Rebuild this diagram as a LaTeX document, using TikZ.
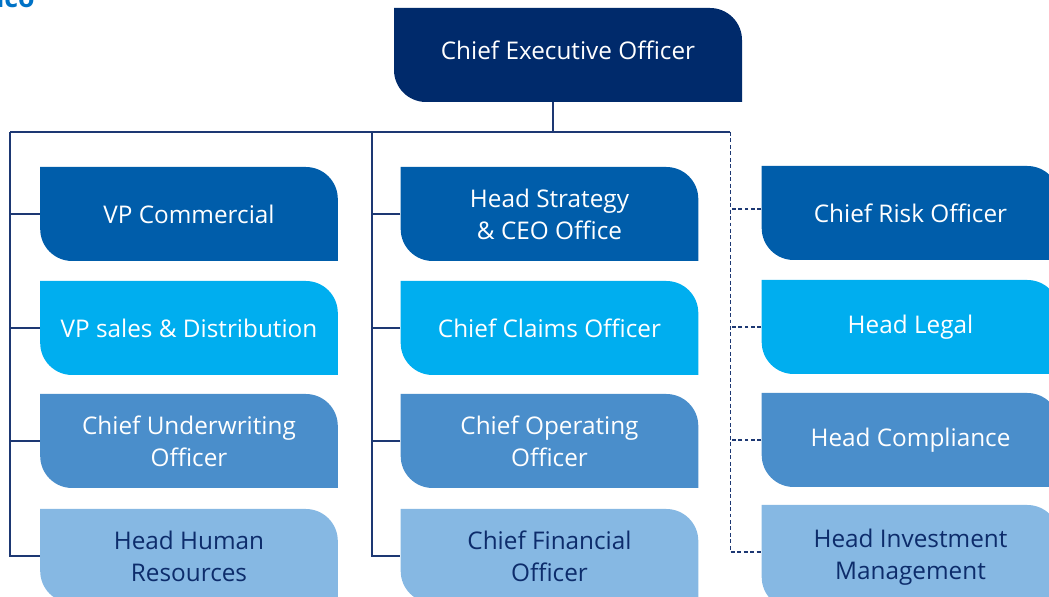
\documentclass[tikz,border=0pt]{standalone}
\usepackage{fontspec}
\setmainfont{Open Sans}
\definecolor{ceoblue}{HTML}{002A6B}
\definecolor{rowone}{HTML}{005DAA}
\definecolor{rowtwo}{HTML}{00AEEF}
\definecolor{rowthree}{HTML}{4A8ECB}
\definecolor{rowfour}{HTML}{86B8E3}
\definecolor{darktext}{HTML}{0D2C6B}
\definecolor{linkblue}{HTML}{1D3873}
\definecolor{titleblue}{HTML}{0072C6}
\newcommand{\boxrad}{0.8cm}
\newcommand{\orgfont}{\fontsize{17.3}{22.8}\selectfont}
\begin{document}
\begin{tikzpicture}[
  orgbox/.style={minimum width=7.44cm, minimum height=2.35cm, inner sep=0pt, align=center, text=white, font=\orgfont,
    path picture={\fill[#1] (path picture bounding box.north west) -- ([xshift=-\boxrad]path picture bounding box.north east) arc[start angle=90,end angle=0,radius=\boxrad] -- (path picture bounding box.south east) -- ([xshift=\boxrad]path picture bounding box.south west) arc[start angle=270,end angle=180,radius=\boxrad] -- cycle;}},
  link/.style={draw=linkblue, line width=0.95pt},
  dotlink/.style={link, dash pattern=on 2.8pt off 1.8pt}]
\useasboundingbox (0,0) rectangle (26.225,14.925);
\node[anchor=base west, inner sep=0pt, text=titleblue, font=\fontsize{19}{23}\selectfont\bfseries] (title) at (-0.1,14.725) {ico};
%top
\node[orgbox=ceoblue, minimum width=8.7cm, text depth=0.25cm] (ceo) at (14.2,13.55) {Chief Executive Officer};
%left column
\node[orgbox=rowone] (vpc) at (4.725,9.575) {VP Commercial};
\node[orgbox=rowtwo] (vps) at (4.725,6.725) {VP sales \& Distribution};
\node[orgbox=rowthree] (cuo) at (4.725,3.9) {Chief Underwriting\\Officer};
\node[orgbox=rowfour, text=darktext] (hhr) at (4.725,1.025) {Head Human\\Resources};
%middle column
\node[orgbox=rowone] (hso) at (13.7375,9.575) {Head Strategy\\\& CEO Office};
\node[orgbox=rowtwo] (cco) at (13.7375,6.725) {Chief Claims Officer};
\node[orgbox=rowthree] (coo) at (13.7375,3.9) {Chief Operating\\Officer};
\node[orgbox=rowfour, text=darktext] (cfo) at (13.7375,1.025) {Chief Financial\\Officer};
%right column
\node[orgbox=rowone] (cro) at (22.7625,9.6) {Chief Risk Officer};
\node[orgbox=rowtwo] (hl) at (22.7625,6.75) {Head Legal};
\node[orgbox=rowthree] (hc) at (22.7625,3.925) {Head Compliance};
\node[orgbox=rowfour, text=darktext, minimum height=2.6cm] (him) at (22.7625,1.0) {Head Investment\\Management};
%lines
\coordinate (busL) at (0.25,11.625); \coordinate (busM) at (9.3,11.625);
\coordinate (busR) at (18.26,11.625); \coordinate (stem) at (13.825,11.625);
\draw[link] (stem) -- (stem |- ceo.south);
\draw[link] (busL) -- (busR);
%branch left
\draw[link] (busL) |- (hhr.west);
\draw[link] (vpc.west) -- (vpc.west -| busL); \draw[link] (vps.west) -- (vps.west -| busL);
\draw[link] (cuo.west) -- (cuo.west -| busL);
%branch middle
\draw[link] (busM) |- (cfo.west);
\draw[link] (hso.west) -- (hso.west -| busM); \draw[link] (cco.west) -- (cco.west -| busM);
\draw[link] (coo.west) -- (coo.west -| busM);
%branch right (dashed)
\draw[dotlink] (busR) |- ([yshift=0.125cm]him.west);
\draw[dotlink] ([yshift=0.1cm]cro.west) -- ([yshift=0.1cm]cro.west -| busR); \draw[dotlink] (hl.west) -- (hl.west -| busR);
\draw[dotlink] (hc.west) -- (hc.west -| busR);
\end{tikzpicture}
\end{document}
